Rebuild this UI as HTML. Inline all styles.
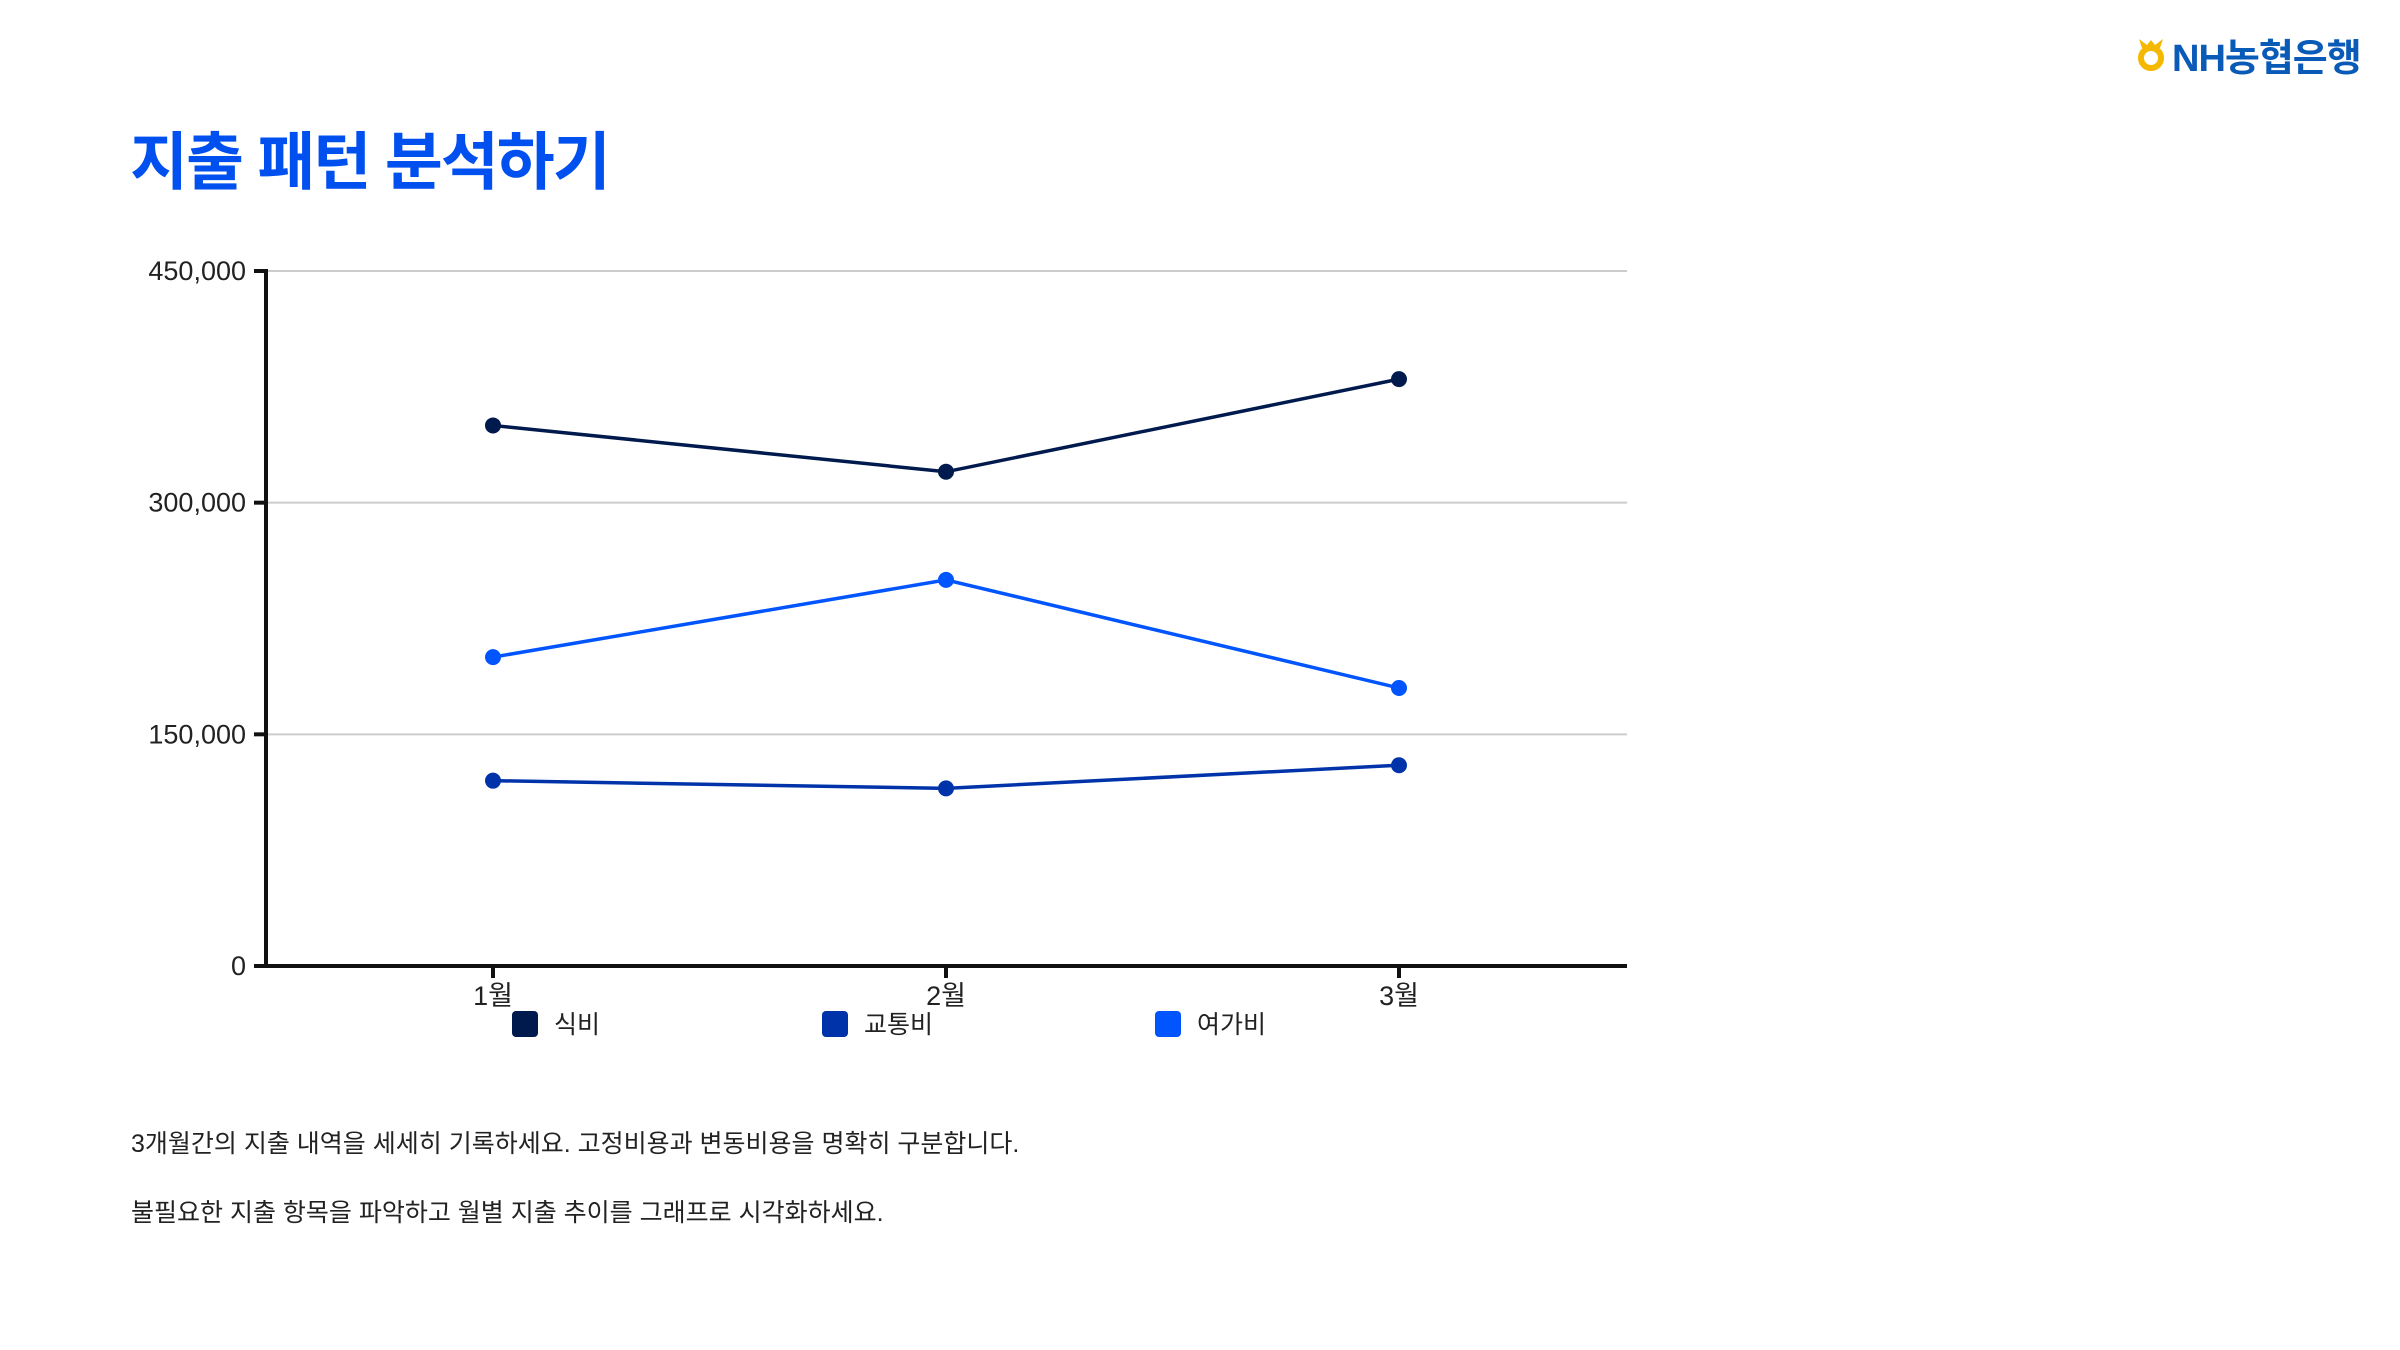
<!DOCTYPE html>
<html><head><meta charset="utf-8">
<style>
body{margin:0;width:2400px;height:1350px;background:#fff;overflow:hidden;font-family:"Liberation Sans","Noto Sans CJK KR",sans-serif;}
#title{position:absolute;left:130px;top:112px;font-size:63px;font-weight:bold;color:#0050f0;letter-spacing:-2px;font-family:"Liberation Sans","Noto Sans CJK KR",sans-serif;white-space:nowrap}
.note{position:absolute;left:131px;font-size:25px;color:#222;white-space:nowrap}
#logo{position:absolute;left:2136px;top:34px;height:40px;display:flex;align-items:center}
</style></head>
<body>
<div id="logo">
<svg width="30" height="36" viewBox="0 0 30 36"><path d="M3 3 L11 9 L15 4 L19 9 L27 3 L24 12 L6 12Z" fill="#f5b800"/><circle cx="15" cy="22" r="10" fill="none" stroke="#f5b800" stroke-width="6"/></svg>
<span style="font-size:38px;font-weight:bold;color:#0a5ab8;margin-left:6px;letter-spacing:-1px;font-family:'Liberation Sans','Noto Sans CJK KR',sans-serif">NH농협은행</span>
</div>
<div id="title">지출 패턴 분석하기</div>
<svg id="chart" width="2400" height="1350" style="position:absolute;left:0;top:0"></svg>
<div class="note" style="top:1124px">3개월간의 지출 내역을 세세히 기록하세요. 고정비용과 변동비용을 명확히 구분합니다.</div>
<div class="note" style="top:1193px">불필요한 지출 항목을 파악하고 월별 지출 추이를 그래프로 시각화하세요.</div>
<script>
const categories=["1월","2월","3월"];
const food=[350000,320000,380000];
const transport=[120000,115000,130000];
const leisure=[200000,250000,180000];
const seriesNames=["식비","교통비","여가비"];
const yTicks=[0,150000,300000,450000];
const yTickLabels=["0","150,000","300,000","450,000"];

const NS="http://www.w3.org/2000/svg";
const svg=document.getElementById('chart');
const x0=266,x1=1627,yTop=271,yBot=966,yMax=450000;
const xPos=[493,946,1399];
function xs(i){return 493+i*(1399-493)/(categories.length-1);}
function ys(v){return yBot-(v/yMax)*(yBot-yTop);}
function mk(tag,attrs){const e=document.createElementNS(NS,tag);for(const k in attrs)e.setAttribute(k,attrs[k]);svg.appendChild(e);return e;}

yTicks.forEach((t,i)=>{
  const y=ys(t);
  if(t>0){const g=mk('line',{x1:x0,x2:x1,y1:y,y2:y,stroke:'#cccccc','stroke-width':2});
  
  }
  const tk=mk('line',{x1:x0-12,x2:x0,y1:y,y2:y,stroke:'#111','stroke-width':4});
  
  
  const tx=mk('text',{x:x0-20,y:y+9,'text-anchor':'end','font-size':27,fill:'#222','font-family':'Liberation Sans, sans-serif'});
  tx.textContent=yTickLabels[i];
  
  
});
const ya=mk('line',{x1:x0,x2:x0,y1:yTop-2,y2:yBot+2,stroke:'#111','stroke-width':4});


const xa=mk('line',{x1:x0-2,x2:x1,y1:yBot,y2:yBot,stroke:'#111','stroke-width':4});


categories.forEach((c,i)=>{
  const x=xs(i);
  const tk=mk('line',{x1:x,x2:x,y1:yBot,y2:yBot+12,stroke:'#111','stroke-width':4});
  
  
  const t=mk('text',{x:x,y:1005,'text-anchor':'middle','font-size':27,fill:'#222','font-family':'Liberation Sans, Noto Sans CJK KR, sans-serif'});
  t.textContent=c;
  
  
});
const series=[food,transport,leisure];
const colors=["#001a4d","#0033aa","#0055ff"];
const keys=["food","transport","leisure"];
series.forEach((s,k)=>{
  const pts=s.map((v,i)=>xs(i)+','+ys(v)).join(' ');
  const pl=mk('polyline',{points:pts,fill:'none',stroke:colors[k],'stroke-width':3.5});
  
  
  s.forEach((v,i)=>{
    const c=mk('circle',{cx:xs(i),cy:ys(v),r:8,fill:colors[k]});
    
    
  });
});
const legX=[512,822,1155];
seriesNames.forEach((n,k)=>{
  const r=mk('rect',{x:legX[k],y:1011,width:26,height:26,rx:4,fill:colors[k]});
  
  
  const t=mk('text',{x:legX[k]+42,y:1033,'font-size':25,fill:'#222','font-family':'Liberation Sans, Noto Sans CJK KR, sans-serif'});
  t.textContent=n;
  
  
});
</script>
</body></html>
